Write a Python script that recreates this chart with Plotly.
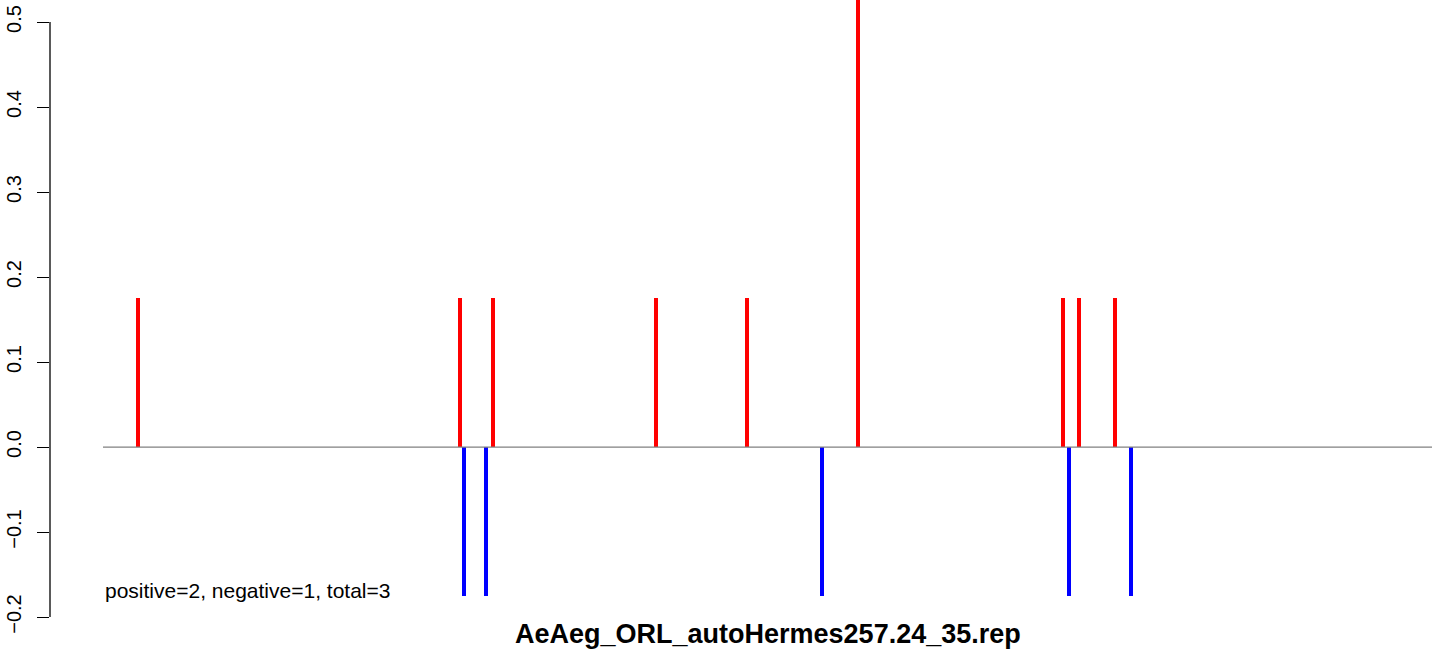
import plotly.graph_objects as go

# Data (positions along the element, arbitrary units)
pos_x = [35, 357, 390, 553, 644, 755, 960, 976, 1012]
pos_y = [0.1753, 0.1753, 0.1753, 0.1753, 0.1753, 0.526, 0.1753, 0.1753, 0.1753]
neg_x = [361, 383, 719, 966, 1028]
neg_y = [-0.1753, -0.1753, -0.1753, -0.1753, -0.1753]
line_x = [0, 1329]
line_y = [0, 0]
y_ticks = [-0.2, -0.1, 0.0, 0.1, 0.2, 0.3, 0.4, 0.5]
y_ticklabels = ["\u22120.2", "\u22120.1", "0.0", "0.1", "0.2", "0.3", "0.4", "0.5"]
title_text = "AeAeg_ORL_autoHermes257.24_35.rep"
note_text = "positive=2, negative=1, total=3"

FONT = "Liberation Sans, Arial, Helvetica, sans-serif"

fig = go.Figure()
fig.add_trace(go.Scatter(x=line_x, y=line_y, mode="lines",
                         line=dict(color="#808080", width=1.3),
                         hoverinfo="skip", showlegend=False))
fig.add_trace(go.Bar(x=pos_x, y=pos_y, width=4, marker=dict(color="#FF0000", line=dict(width=0)),
                     showlegend=False))
fig.add_trace(go.Bar(x=neg_x, y=neg_y, width=4, marker=dict(color="#0000FF", line=dict(width=0)),
                     showlegend=False))

fig.update_layout(
    width=1444, height=650,
    margin=dict(l=50, r=12, t=0, b=9, autoexpand=False),
    paper_bgcolor="white", plot_bgcolor="white",
    barmode="overlay",
    font=dict(family=FONT, color="black"),
    xaxis=dict(range=[-53, 1329], visible=False, showgrid=False, zeroline=False, automargin=False),
    yaxis=dict(range=[-0.2282, 0.5259], showgrid=False, zeroline=False, showline=False,
               automargin=False,
               tickmode="array", tickvals=y_ticks, ticktext=y_ticklabels,
               ticks="outside", ticklen=12, tickwidth=1.3, tickcolor="black",
               tickangle=-90, tickfont=dict(size=20, family=FONT, color="black"),
               ticklabelstandoff=8),
    shapes=[dict(type="line", xref="paper", yref="y", x0=0, x1=0, y0=-0.2, y1=0.5,
                 line=dict(color="black", width=1.3))],
    annotations=[
        dict(text=note_text, x=0, y=-0.169, xref="x", yref="y", xanchor="left", yanchor="middle",
             showarrow=False, font=dict(size=21, family=FONT, color="black")),
        dict(text="<b>" + title_text + "</b>", x=664.5, y=0.011, xref="x", yref="paper",
             showarrow=False, xanchor="center", yanchor="middle",
             font=dict(size=27, family=FONT, color="black")),
    ],
)
fig.write_html("out.html", post_script="document.body.style.margin='0';",
               config={"displayModeBar": False})
